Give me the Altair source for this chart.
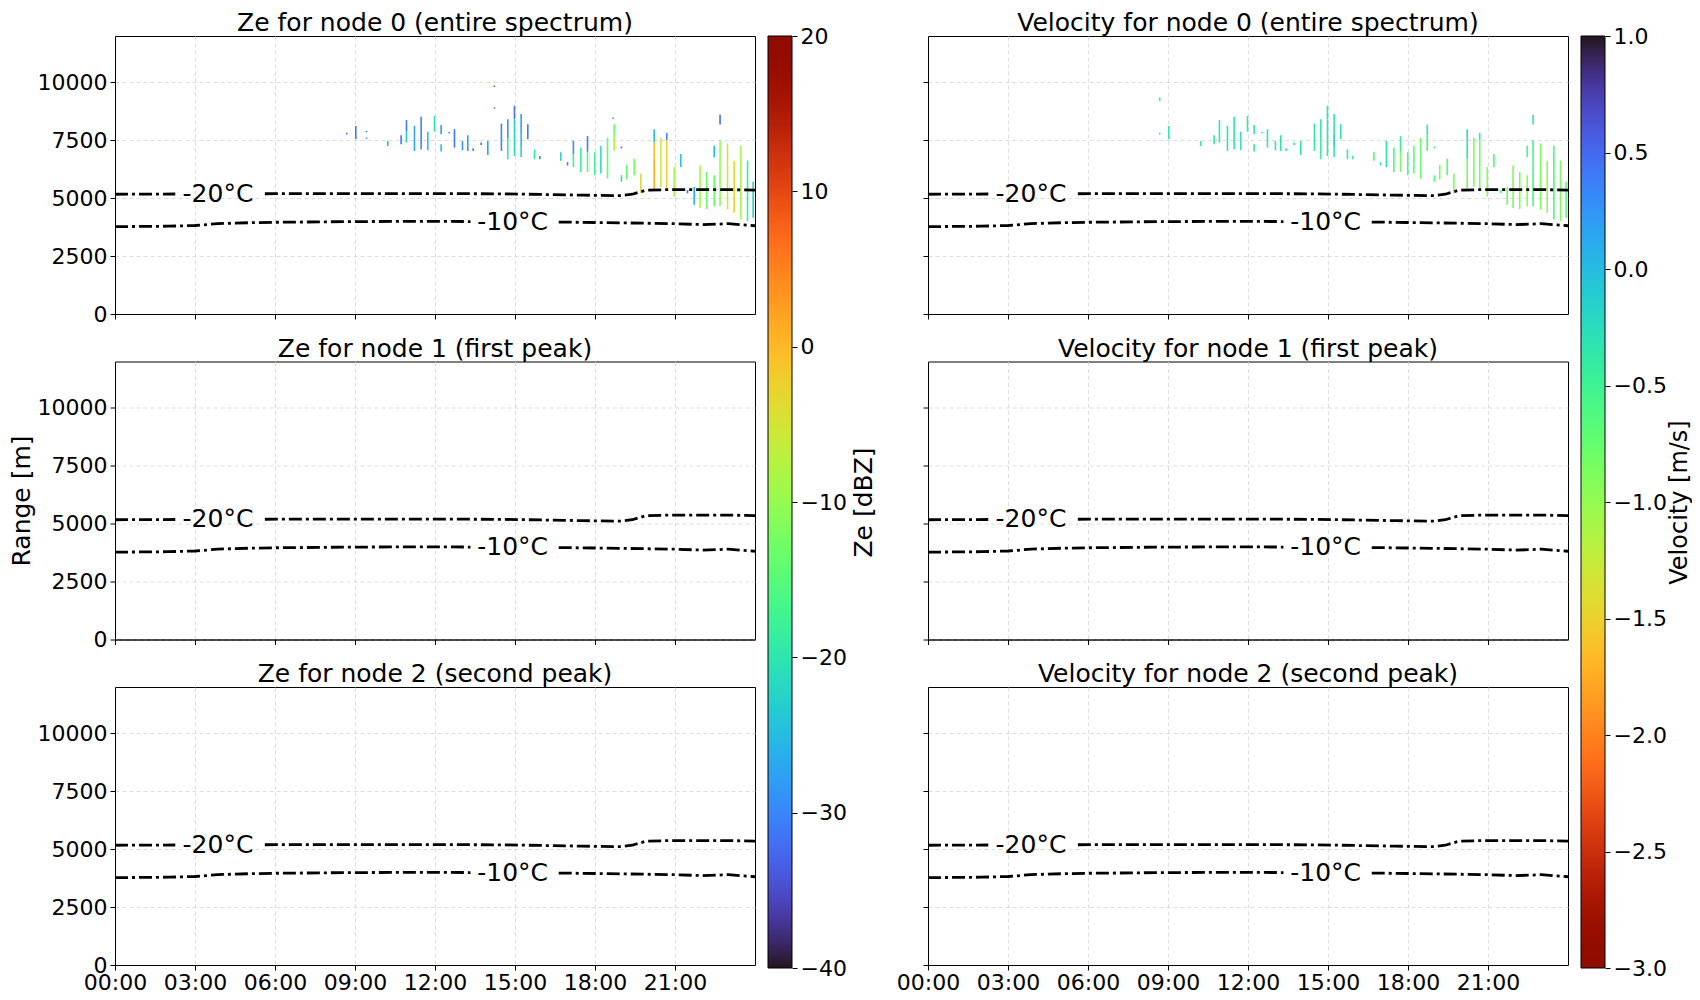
import altair as alt
import pandas as pd

FONT = "DejaVu Sans"

# ---------------- axis ticks ----------------
HOUR_TICKS = [0, 3, 6, 9, 12, 15, 18, 21]
RANGE_TICKS = [0, 2500, 5000, 7500, 10000]
ZE_TICKS = [-40, -30, -20, -10, 0, 10, 20]
VEL_TICKS = [-3.0, -2.5, -2.0, -1.5, -1.0, -0.5, 0.0, 0.5, 1.0]
TIME_DOMAIN = [0, 24]
RANGE_DOMAIN = [0, 12000]
ZE_DOMAIN = [-40, 20]
VEL_DOMAIN = [-3, 1]

# ---------------- radar echoes (node 0 only) ----------------
# time in hours, bottom / top of echo column in m, Ze in dBZ, velocity in m/s
echo_t = [8.66, 8.66, 9.00, 9.40, 9.40, 10.20, 10.70, 10.90, 10.90, 11.20,
          11.45, 11.70, 11.95, 12.20, 12.20, 12.50, 12.70, 13.00, 13.20, 13.40,
          13.70, 13.95, 14.20, 14.20, 14.46, 14.70, 14.70, 14.95, 14.95, 15.20,
          15.20, 15.20, 15.45, 15.70, 15.90, 16.69, 16.94, 17.16, 17.16, 17.44,
          17.69, 17.69, 17.96, 18.19, 18.44, 18.65, 18.69, 18.69, 18.96, 18.96,
          19.16, 19.44, 19.69, 20.19, 20.19, 20.19, 20.44, 20.66, 20.66, 20.94,
          21.19, 21.44, 21.69, 21.91, 22.16, 22.44, 22.44, 22.66, 22.66, 22.94,
          23.19, 23.44, 23.69, 23.90]
echo_bot = [7750, 9200, 7540, 7560, 7850, 7250, 7330, 7900, 7400, 7040,
            7110, 7070, 7870, 7760, 7010, 7800, 7180, 7070, 7040, 7040,
            7300, 6860, 9800, 8860, 7040, 7600, 6680, 8400, 6820, 7760,
            7250, 6780, 7540, 6680, 6680, 6620, 6410, 6900, 6340, 6130,
            7000, 6130, 5990, 6060, 5850, 8430, 7700, 7050, 7150, 5710,
            5810, 5990, 5210, 7400, 6700, 5350, 5490, 7500, 5420, 5070,
            6340, 5210, 4720, 4580, 4530, 6770, 4650, 8180, 4650, 4510,
            4370, 4080, 4010, 4160]
echo_top = [7830, 9350, 8120, 7620, 7900, 7470, 7720, 8370, 7900, 8120,
            8510, 7870, 8550, 8160, 7330, 7860, 7980, 7470, 7720, 7150,
            7400, 7470, 9860, 8920, 8220, 8410, 7600, 8990, 8400, 8630,
            7760, 7250, 8190, 7110, 6820, 6980, 6550, 7470, 6900, 7190,
            7680, 7000, 6980, 7260, 7610, 8480, 8180, 7700, 7230, 5990,
            6440, 6700, 6060, 7970, 7400, 6700, 7610, 7820, 7500, 6340,
            6910, 5350, 5490, 6410, 6130, 7260, 5990, 8600, 7500, 7360,
            6620, 7260, 6620, 5710]
echo_ze = [-30, None, -31, -30, -32, -25, -31, -31, -23, -27,
           -30, -24, -20, -28, -24, -32, -31, -28, -28, -30,
           -32, -27, -33, -33, -30, -29, -19, -31, -21, -27,
           -25, -22, -31, -19, -30, -22, -31, -29, -17, -18,
           -30, -15, -17, -20, -14, -32, -14, -8, -32, -20,
           -14, -12, -3, -25, 0, 2, -5, -30, -2, -8,
           -24, -32, -26, -8, -13, -25, -13, -32, -10, -6,
           -2, -8, -18, -22]
echo_vel = [-0.38, -0.34, -0.38, None, None, -0.44, -0.38, -0.38, -0.38, -0.34,
            -0.36, -0.38, -0.44, -0.38, -0.38, -0.38, -0.38, -0.38, -0.34, -0.38,
            -0.38, -0.38, None, None, -0.38, -0.38, -0.48, -0.34, -0.38, -0.38,
            -0.10, -0.38, -0.38, -0.44, -0.44, -0.65, -0.38, -0.34, -0.34, -0.60,
            -0.45, -0.90, -0.60, -0.70, -0.80, None, -0.45, -0.60, -0.45, -0.70,
            -0.90, -0.70, -0.90, -0.30, -0.35, -0.90, -0.90, -0.45, -0.80, -1.00,
            -0.60, -0.60, -0.80, -0.90, -0.90, -0.60, -1.00, -0.38, -0.60, -0.90,
            -1.00, -0.60, -0.90, -0.70]

# ---------------- isotherms (same in all panels) ----------------
iso20_h = [0, 1.5, 2.26, 5.62, 7.5, 10, 12, 14.5, 16, 17.5, 19, 19.4, 19.9, 20.7, 22, 23, 24]
iso20_r = [5170, 5175, 5180, 5190, 5200, 5200, 5200, 5185, 5160, 5130, 5110, 5170, 5340, 5370, 5370, 5370, 5350]
iso20_seg = [0, 0, 0, 1, 1, 1, 1, 1, 1, 1, 1, 1, 1, 1, 1, 1, 1]
iso10_h = [0, 2, 3, 3.85, 5, 6, 9, 12, 13.33, 16.64, 18, 21, 22, 22.6, 23, 24]
iso10_r = [3770, 3790, 3820, 3900, 3940, 3960, 3990, 4000, 3990, 3970, 3950, 3900, 3860, 3880, 3900, 3810]
iso10_seg = [2, 2, 2, 2, 2, 2, 2, 2, 2, 3, 3, 3, 3, 3, 3, 3]
iso_label = ["-20°C", "-10°C"]
iso_label_h = [3.86, 14.91]
iso_label_r = [5200, 3990]

# ---------------- panel titles ----------------
ZE_TITLES = ["Ze for node 0 (entire spectrum)", "Ze for node 1 (first peak)", "Ze for node 2 (second peak)"]
VEL_TITLES = ["Velocity for node 0 (entire spectrum)", "Velocity for node 1 (first peak)",
              "Velocity for node 2 (second peak)"]


def turbo(t):
    t = max(0.0, min(1.0, t))
    r = 34.61 + t * (1172.33 - t * (10793.56 - t * (33300.12 - t * (38394.49 - t * 14825.05))))
    g = 23.31 + t * (557.33 + t * (1225.33 - t * (3574.96 - t * (1073.77 + t * 707.56))))
    b = 27.2 + t * (3211.1 - t * (15327.97 - t * (27814 - t * (22569.18 - t * 6838.66))))
    c = [max(0, min(255, int(round(v)))) for v in (r, g, b)]
    return "#%02x%02x%02x" % tuple(c)


echo_df = pd.DataFrame({"t": echo_t, "bot": echo_bot, "top": echo_top, "ze": echo_ze, "vel": echo_vel})
iso_df = pd.DataFrame({
    "h": iso20_h + iso10_h,
    "r": iso20_r + iso10_r,
    "seg": iso20_seg + iso10_seg,
})
lab_df = pd.DataFrame({"label": iso_label, "h": iso_label_h, "r": iso_label_r})

W, H = 640, 278
CB_W = 24
CB_H = 932
FS = 25      # titles
LFS = 22     # tick labels

x_scale = alt.Scale(domain=TIME_DOMAIN, nice=False, zero=False)
y_scale = alt.Scale(domain=RANGE_DOMAIN, nice=False, zero=False)


def x_axis(labels):
    return alt.Axis(values=HOUR_TICKS, labels=labels, title=None, grid=True,
                    labelExpr="(datum.value < 10 ? '0' : '') + datum.value + ':00'",
                    labelFlush=False, labelPadding=2)


def y_axis(labels, title):
    if title:
        kw = dict(title=title, titlePadding=3)
    else:
        kw = dict(title=None)
    return alt.Axis(values=RANGE_TICKS, labels=labels, grid=True, format="d", **kw)


def panel(kind, row, col_left):
    xa = x_axis(row == 2)
    ya = y_axis(col_left, "Range [m]" if (col_left and row == 1) else None)
    layers = []
    if row == 0:
        field = "ze" if kind == "ze" else "vel"
        if kind == "ze":
            cscale = alt.Scale(scheme="turbo", domain=ZE_DOMAIN)
        else:
            cscale = alt.Scale(scheme="turbo", domain=VEL_DOMAIN, reverse=True)
        echoes = (
            alt.Chart(echo_df)
            .transform_filter(f"isValid(datum.{field})")
            .transform_calculate(t2="datum.t + 0.06")
            .mark_rect(clip=True)
            .encode(
                x=alt.X("t:Q", scale=x_scale, axis=xa),
                x2="t2:Q",
                y=alt.Y("bot:Q", scale=y_scale, axis=ya),
                y2="top:Q",
                color=alt.Color(f"{field}:Q", scale=cscale, legend=None),
            )
        )
        layers.append(echoes)
    lines = (
        alt.Chart(iso_df)
        .mark_line(color="black", strokeWidth=2.8, strokeDash=[13, 4, 3, 4], clip=True)
        .encode(
            x=alt.X("h:Q", scale=x_scale, axis=xa),
            y=alt.Y("r:Q", scale=y_scale, axis=ya),
            detail="seg:N",
        )
    )
    labels = (
        alt.Chart(lab_df)
        .mark_text(font=FONT, fontSize=25, color="black", align="center", baseline="middle")
        .encode(x=alt.X("h:Q", scale=x_scale), y=alt.Y("r:Q", scale=y_scale), text="label:N")
    )
    layers += [lines, labels]
    title = (ZE_TITLES if kind == "ze" else VEL_TITLES)[row]
    return alt.layer(*layers).properties(
        width=W, height=H,
        title=alt.TitleParams(title, fontSize=FS, font=FONT, fontWeight="normal", offset=0),
    )


def colorbar(domain, ticks, title, reverse, fmt, title_pad, title_size):
    n = 40
    stops = []
    for i in range(n + 1):
        o = i / n
        stops.append(alt.GradientStop(offset=o, color=turbo(1 - o if reverse else o)))
    grad = alt.Gradient(gradient="linear", stops=stops, x1=0, x2=0, y1=1, y2=0)
    df = pd.DataFrame({"lo": [domain[0]], "hi": [domain[1]]})
    return (
        alt.Chart(df)
        .mark_rect(fill=grad, stroke="black", strokeWidth=1)
        .encode(
            y=alt.Y("lo:Q",
                    scale=alt.Scale(domain=domain, nice=False, zero=False),
                    axis=alt.Axis(orient="right", values=ticks, grid=False, domain=False, title=title,
                                  titleAngle=270, titleBaseline="top", titlePadding=title_pad,
                                  titleFontSize=title_size,
                                  labelExpr=f"replace(format(datum.value, '{fmt}'), '-', '\u2212')")),
            y2="hi:Q",
            x=alt.value(0),
            x2=alt.value(CB_W),
        )
        .properties(width=CB_W, height=CB_H,
                    view=alt.ViewConfig(stroke="transparent"))
    )


left_col = alt.vconcat(*[panel("ze", r, True) for r in range(3)], spacing=9.5)
right_col = alt.vconcat(*[panel("vel", r, False) for r in range(3)], spacing=15.5)
cb_ze = colorbar(ZE_DOMAIN, ZE_TICKS, "Ze [dBZ]", False, "d", 5.5, 25)
cb_vel = colorbar(VEL_DOMAIN, VEL_TICKS, "Velocity [m/s]", True, ".1f", 1, 24)

chart = alt.hconcat(
    alt.hconcat(left_col, cb_ze, spacing=11).resolve_scale(color="independent"),
    alt.hconcat(right_col, cb_vel, spacing=11).resolve_scale(color="independent"),
    spacing=17,
).resolve_scale(color="independent").properties(
    padding={"left": 0, "top": 2, "right": 0, "bottom": 0},
    background="white",
).configure_view(
    stroke="black", strokeWidth=1,
).configure_axis(
    labelFont=FONT, labelFontSize=LFS, labelColor="black", labelPadding=3,
    titleFont=FONT, titleFontSize=FS, titleFontWeight="normal", titleColor="black",
    domainColor="black", domainWidth=1, tickColor="black", tickSize=5, tickWidth=1,
    gridColor="#d4d4d4", gridDash=[4, 3], gridWidth=0.8,
)

chart.save("out.html", embed_options={"renderer": "svg", "actions": False})
